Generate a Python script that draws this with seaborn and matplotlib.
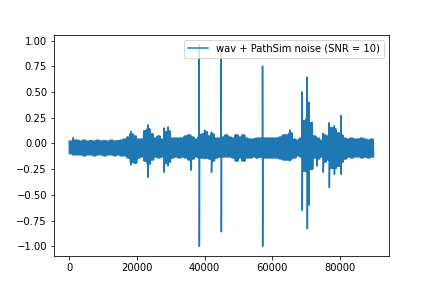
import numpy as np
import pandas as pd
import matplotlib
matplotlib.use("Agg")
import matplotlib.pyplot as plt
import seaborn as sns

# Envelope of the waveform, one value per 1000 samples
sample_step = 1000
upper = [0.02, 0.03, 0.03, 0.02, 0.03, 0.02, 0.025, 0.02, 0.03, 0.02,
         0.025, 0.02, 0.03, 0.02, 0.025, 0.03, 0.04, 0.06, 0.09, 0.07,
         0.04, 0.04, 0.12, 0.14, 0.09, 0.05, 0.07, 0.04, 0.11, 0.12,
         0.05, 0.05, 0.05, 0.05, 0.07, 0.08, 0.06, 0.04, 0.06, 0.09,
         0.11, 0.07, 0.09, 0.05, 0.05, 0.06, 0.08, 0.06, 0.05, 0.08,
         0.06, 0.08, 0.05, 0.04, 0.04, 0.05, 0.05, 0.05, 0.05, 0.05,
         0.05, 0.05, 0.06, 0.08, 0.08, 0.10, 0.04, 0.03, 0.05, 0.22,
         0.24, 0.20, 0.07, 0.05, 0.03, 0.08, 0.07, 0.15, 0.14, 0.10,
         0.08, 0.05, 0.04, 0.05, 0.04, 0.04, 0.05, 0.04, 0.03, 0.04]
lower = [-0.10, -0.11, -0.11, -0.11, -0.12, -0.11, -0.11, -0.12, -0.11, -0.11,
         -0.12, -0.11, -0.11, -0.12, -0.11, -0.12, -0.12, -0.14, -0.18, -0.19,
         -0.14, -0.13, -0.17, -0.20, -0.16, -0.13, -0.14, -0.13, -0.19, -0.18,
         -0.14, -0.13, -0.14, -0.13, -0.14, -0.16, -0.15, -0.13, -0.14, -0.14,
         -0.14, -0.15, -0.17, -0.14, -0.13, -0.13, -0.13, -0.13, -0.14, -0.17,
         -0.14, -0.17, -0.14, -0.14, -0.13, -0.14, -0.13, -0.14, -0.14, -0.14,
         -0.14, -0.14, -0.15, -0.16, -0.16, -0.15, -0.14, -0.12, -0.13, -0.27,
         -0.28, -0.25, -0.14, -0.15, -0.13, -0.18, -0.16, -0.24, -0.24, -0.22,
         -0.18, -0.15, -0.13, -0.14, -0.13, -0.13, -0.14, -0.13, -0.14, -0.13]
# Isolated narrow spikes: sample position, top, bottom
spike_x = [1200, 18200, 23300, 28000, 29200, 36000, 38400, 40000, 42000,
           44900, 57100, 65200, 68800, 70300, 70800, 73200, 75000, 76800,
           78300, 80300]
spike_top = [0.055, 0.115, 0.18, 0.15, 0.16, 0.07, 0.96, 0.13, 0.11,
             0.95, 0.75, 0.13, 0.50, 0.645, 0.40, 0.05, 0.10, 0.20,
             0.17, 0.27]
spike_bottom = [-0.11, -0.21, -0.33, -0.28, -0.22, -0.26, -1.00, -0.15, -0.28,
                -0.86, -1.00, -0.17, -0.65, -0.83, -0.60, -0.22, -0.28, -0.43,
                -0.30, -0.30]
label = "wav + PathSim noise (SNR = 10)"

oscillations = 10
xs, ys = [], []
for k, (u, l) in enumerate(zip(upper, lower)):
    for j in range(oscillations):
        xs.append(k * sample_step + j * sample_step // oscillations)
        ys.append(u if j % 2 == 0 else l)
for sx, st, sb in zip(spike_x, spike_top, spike_bottom):
    xs += [sx, sx + 40]
    ys += [st, sb]
df = pd.DataFrame({"sample": xs, "amp": ys}).sort_values("sample", kind="stable")

fig, ax = plt.subplots(figsize=(6, 4), dpi=72)
sns.lineplot(data=df, x="sample", y="amp", ax=ax, label=label,
             color="#1f77b4", linewidth=1.5, estimator=None, sort=False)
ax.set_xlabel("")
ax.set_ylabel("")
ax.set_xticks([0, 20000, 40000, 60000, 80000])
ax.set_yticks([-1.0, -0.75, -0.5, -0.25, 0.0, 0.25, 0.5, 0.75, 1.0])
ax.legend(loc="upper right")
fig.savefig("out.png", dpi=72)
